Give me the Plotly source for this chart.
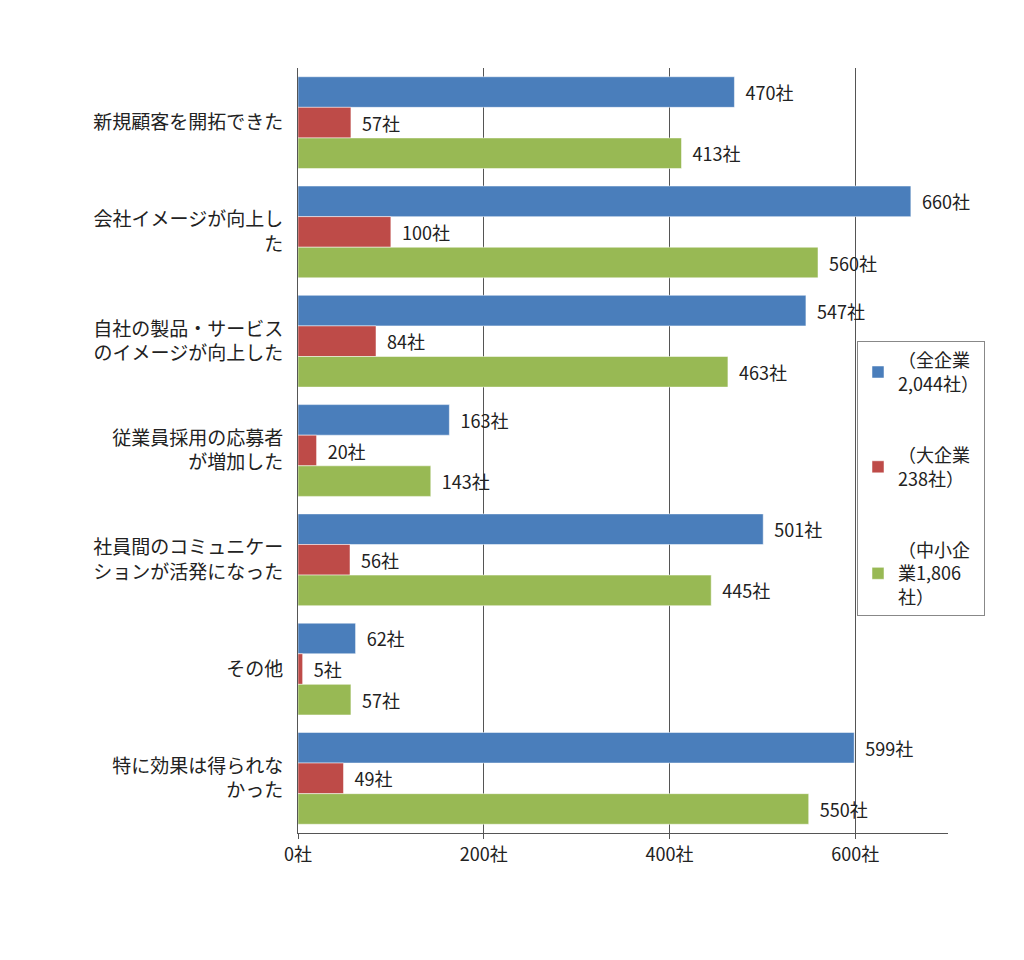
import plotly.graph_objects as go

categories = [
    "新規顧客を開拓できた",
    "会社イメージが向上し<br>た",
    "自社の製品・サービス<br>のイメージが向上した",
    "従業員採用の応募者<br>が増加した",
    "社員間のコミュニケー<br>ションが活発になった",
    "その他",
    "特に効果は得られな<br>かった",
]
all_firms = [470, 660, 547, 163, 501, 62, 599]
large_firms = [57, 100, 84, 20, 56, 5, 49]
sme_firms = [413, 560, 463, 143, 445, 57, 550]

series = [
    ("（全企業<br>2,044社）", all_firms, "#4a7ebb"),
    ("（大企業<br>238社）", large_firms, "#be4b48"),
    ("（中小企<br>業1,806<br>社）", sme_firms, "#98b954"),
]

fig = go.Figure()
for i, (name, vals, color) in enumerate(series):
    fig.add_trace(go.Bar(
        y=categories, x=vals, name=name, orientation="h", legendgroup=str(i),
        marker=dict(color=color, line=dict(color="#ffffff", width=0.5)),
        text=[f"  {v}社" for v in vals], textposition="outside",
        textfont=dict(size=18, color="#222"), cliponaxis=False,
    ))

fig.update_layout(
    width=1024, height=960,
    margin=dict(l=290, r=84, t=60, b=135),
    barmode="group", bargap=0.16, bargroupgap=0,
    plot_bgcolor="white", paper_bgcolor="white",
    font=dict(family="Noto Sans CJK JP", size=19, color="#222"),
    legend=dict(x=0.86, y=0.643, xanchor="left", yanchor="top",
                bordercolor="#888", borderwidth=1, bgcolor="white",
                font=dict(size=18), tracegroupgap=45, itemwidth=30),
)
fig.update_xaxes(range=[0, 700], tickvals=[0, 200, 400, 600],
                 ticktext=["0社", "200社", "400社", "600社"],
                 tickfont=dict(size=18),
                 showgrid=True, gridcolor="#555", gridwidth=1,
                 showline=True, linecolor="#555", ticks="outside",
                 ticklen=5, tickcolor="#555", zeroline=False)
fig.update_yaxes(autorange="reversed", showline=True, linecolor="#555",
                 ticks="", ticklabelstandoff=10)

fig.write_html("out.html")
